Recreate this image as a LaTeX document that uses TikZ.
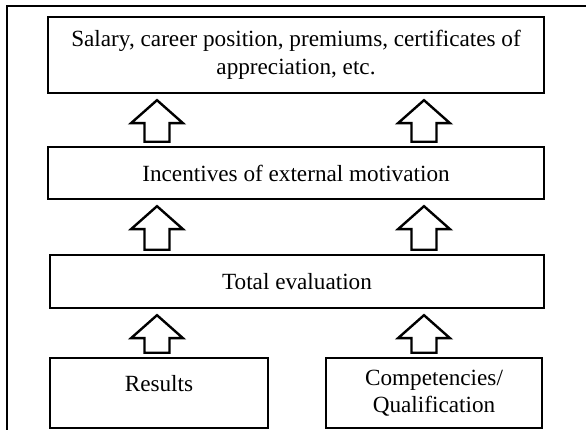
\documentclass[tikz,border=0pt]{standalone}
\usepackage{fontspec}
\setmainfont{Liberation Serif}
\usetikzlibrary{calc}
\begin{document}
\begin{tikzpicture}[x=1pt,y=-1pt,
  box/.style={draw,line width=2.4pt,rectangle,inner sep=0pt,align=center,
    font=\fontsize{23.2}{27.5}\selectfont},
  frameline/.style={line width=2.2pt},
  blockarrow/.style={draw,line width=2.4pt,line join=miter,
    to path={let \p1=(\tikztostart), \p2=(\tikztotarget) in
      (\x1-12.5pt,\y1+4pt) -- (\x1-12.5pt,\y2-29pt) -- (\x1-26pt,\y2-29pt)
      -- (\x1,\y2-6pt) -- (\x1+26pt,\y2-29pt) -- (\x1+12.5pt,\y2-29pt)
      -- (\x1+12.5pt,\y1+4pt) -- cycle}}]
\useasboundingbox (0,0) rectangle (587,430);

% open outer frame
\draw[frameline] (7,432) -- (7,6) -- (586,6);

% boxes
\node[box,minimum width=496pt,minimum height=76pt] (top) at (296,55)
  {Salary, career position, premiums, certificates of\\appreciation, etc.};
\node[box,minimum width=496pt,minimum height=52pt] (incent) at (296,173)
  {Incentives of external motivation};
\node[box,minimum width=494pt,minimum height=53pt] (total) at (297,281.5)
  {Total evaluation};
\node[box,minimum width=218pt,minimum height=70pt] (results) at (159,393)
  {Results\\[-8pt]\mbox{}};
\node[box,minimum width=216pt,minimum height=70pt] (compet) at (434,393)
  {Competencies/\\Qualification};

% columns of the block arrows
\coordinate (ax) at (157,0);
\coordinate (bx) at (424,0);

\draw[blockarrow] (incent.north -| ax) to (top.south -| ax);
\draw[blockarrow] (incent.north -| bx) to (top.south -| bx);
\draw[blockarrow] (total.north -| ax) to (incent.south -| ax);
\draw[blockarrow] (total.north -| bx) to (incent.south -| bx);
\draw[blockarrow] (results.north -| ax) to (total.south -| ax);
\draw[blockarrow] (compet.north -| bx) to (total.south -| bx);
\end{tikzpicture}
\end{document}
